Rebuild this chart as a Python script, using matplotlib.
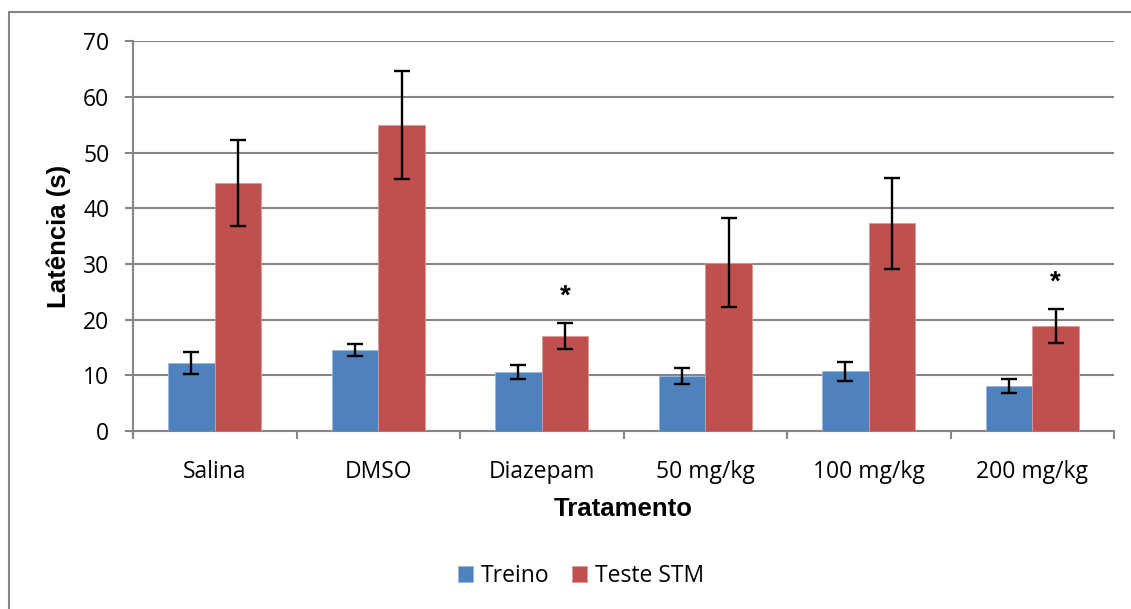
import numpy as np
import matplotlib.pyplot as plt
from matplotlib.patches import Rectangle

tratamentos = ['Salina', 'DMSO', 'Diazepam', '50 mg/kg', '100 mg/kg', '200 mg/kg']
treino = [12.2, 14.5, 10.6, 9.9, 10.7, 8.1]
treino_err = [1.95, 1.1, 1.3, 1.4, 1.75, 1.3]
teste = [44.5, 55.0, 17.1, 30.2, 37.3, 18.9]
teste_err = [7.75, 9.7, 2.3, 8.0, 8.25, 3.0]
# grupos com diferença significativa (marcados com *)
signif = ['Diazepam', '200 mg/kg']

azul = '#4F81BD'
vermelho = '#C0504D'
cinza = '#868686'
fonte = ['Open Sans', 'DejaVu Sans']
fonte_bold = ['Liberation Sans', 'DejaVu Sans']

fig = plt.figure(figsize=(11.31, 6.09), dpi=100)
ax = fig.add_axes([0.1176, 0.2923, 0.8674, 0.6396])

# moldura do gráfico
fig.patches.append(Rectangle((9 / 1131, -0.1), 1.2, 1 - 12 / 609 + 0.1,
                             transform=fig.transFigure, fill=False,
                             edgecolor=cinza, linewidth=1.5))

x = np.arange(len(tratamentos)) + 0.5
w = 0.285
err_kw = dict(ecolor='black', elinewidth=1.7, capsize=6, capthick=1.7)
ax.bar(x - w / 2, treino, w, yerr=treino_err, color=azul, edgecolor='#9db6d8',
       linewidth=0.6, label='Treino', error_kw=err_kw, zorder=3)
ax.bar(x + w / 2, teste, w, yerr=teste_err, color=vermelho, edgecolor='#dd9896',
       linewidth=0.6, label='Teste STM', error_kw=err_kw, zorder=3)

for i, t in enumerate(tratamentos):
    if t in signif:
        ax.text(x[i] + w / 2, teste[i] + teste_err[i] + 4.7, '*', ha='center',
                va='center', fontsize=20, fontweight='bold', family=fonte_bold)

ax.set_xlim(0, len(tratamentos))
ax.set_ylim(0, 70)
ax.set_yticks(range(0, 71, 10))
ax.set_xticks(x)
ax.set_xticklabels(tratamentos, family=fonte, fontsize=16.5)
ax.set_xticks(np.arange(len(tratamentos) + 1), minor=True)
ax.tick_params(axis='x', which='major', length=0, pad=21)
ax.tick_params(axis='x', which='minor', length=6, width=1.5, color=cinza)
ax.tick_params(axis='y', length=6, width=1.5, color=cinza, pad=11)
for lb in ax.get_yticklabels():
    lb.set_family(fonte)
    lb.set_fontsize(16.5)

ax.grid(axis='y', color=cinza, linewidth=1.5, zorder=0)
ax.set_axisbelow(True)
for s in ['top', 'right']:
    ax.spines[s].set_visible(False)
for s in ['left', 'bottom']:
    ax.spines[s].set_color(cinza)
    ax.spines[s].set_linewidth(1.5)

ax.set_ylabel('Latência (s)', family=fonte_bold, fontsize=18.5, fontweight='bold', labelpad=9)
ax.set_xlabel('Tratamento', family=fonte_bold, fontsize=18.5, fontweight='bold', labelpad=9)

leg = fig.legend(loc='center', bbox_to_anchor=(581 / 1131, 1 - 576 / 609), ncol=2,
                 frameon=False, prop={'family': fonte, 'size': 16.5},
                 handlelength=0.65, handleheight=0.65, handletextpad=0.35, columnspacing=1.0)

fig.savefig('out.png', dpi=100)
